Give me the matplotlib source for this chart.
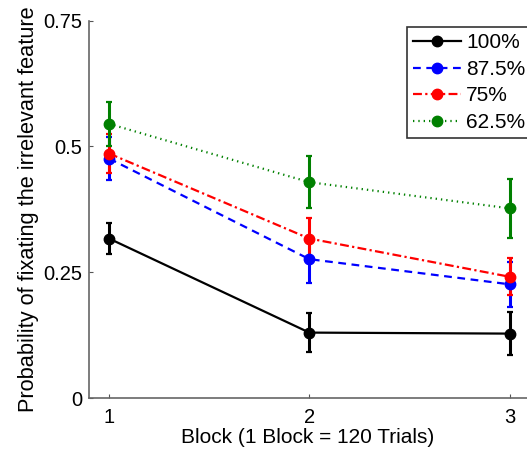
import numpy as np
import matplotlib
matplotlib.use("Agg")
import matplotlib.pyplot as plt
from matplotlib.lines import Line2D

plt.rcParams['font.family'] = ['Liberation Sans', 'DejaVu Sans']

blocks = [1, 2, 3]
labels = ['100%', '87.5%', '75%', '62.5%']
mean_100 = [0.317, 0.130, 0.128]
err_100 = [0.031, 0.038, 0.043]
mean_875 = [0.476, 0.276, 0.226]
err_875 = [0.042, 0.047, 0.045]
mean_75 = [0.486, 0.317, 0.241]
err_75 = [0.039, 0.040, 0.037]
mean_625 = [0.545, 0.429, 0.377]
err_625 = [0.044, 0.052, 0.059]

fig = plt.figure(figsize=(5.27, 4.53), dpi=100)
ax = fig.add_axes([89/527, 1 - 398/453, (527 - 89)/527, (398 - 20.7)/453])

styles = [
    (mean_100, err_100, 'black', '-'),
    (mean_875, err_875, 'blue', (0, (3.5, 2.5))),
    (mean_75, err_75, 'red', (0, (4, 1.5, 1, 1.5))),
    (mean_625, err_625, '#008000', (0, (0.6, 1.8))),
]
handles = []
for (m, e, c, ls), lab in zip(styles, labels):
    ax.errorbar(blocks, m, yerr=e, color=c, ls=ls, lw=1.6, marker='o',
                markersize=7.5, capsize=2.5, capthick=1.6, elinewidth=2.2)
    handles.append(Line2D([], [], color=c, ls=ls, lw=1.6, marker='o',
                          markersize=7.5))

ax.set_xlim(0.9, 3.087)
ax.set_ylim(0, 0.75)
ax.set_xticks([1, 2, 3])
ax.set_yticks([0, 0.25, 0.5, 0.75])
ax.set_yticklabels(['0', '0.25', '0.5', '0.75'])
ax.tick_params(direction='in', labelsize=14.5, length=3, colors='#555555',
               labelcolor='black')
ax.tick_params(axis='y', pad=5)
ax.tick_params(axis='x', pad=7)
ax.spines['top'].set_visible(False)
ax.spines['right'].set_visible(False)
for s in ['left', 'bottom']:
    ax.spines[s].set_color('#666666')
    ax.spines[s].set_linewidth(1.2)

ax.set_xlabel('Block (1 Block = 120 Trials)', fontsize=15, labelpad=1)
ax.set_ylabel('Probability of fixating the irrelevant feature', fontsize=15.7,
              labelpad=3)

leg = ax.legend(handles, labels, loc='upper right', fontsize=15, frameon=True,
                fancybox=False, edgecolor='black', handlelength=2.3,
                handletextpad=0.25, labelspacing=0.36, borderpad=0.3,
                borderaxespad=0, bbox_to_anchor=(1.01, 0.983))
leg.get_frame().set_linewidth(1.2)

fig.savefig('out.png', dpi=100)
